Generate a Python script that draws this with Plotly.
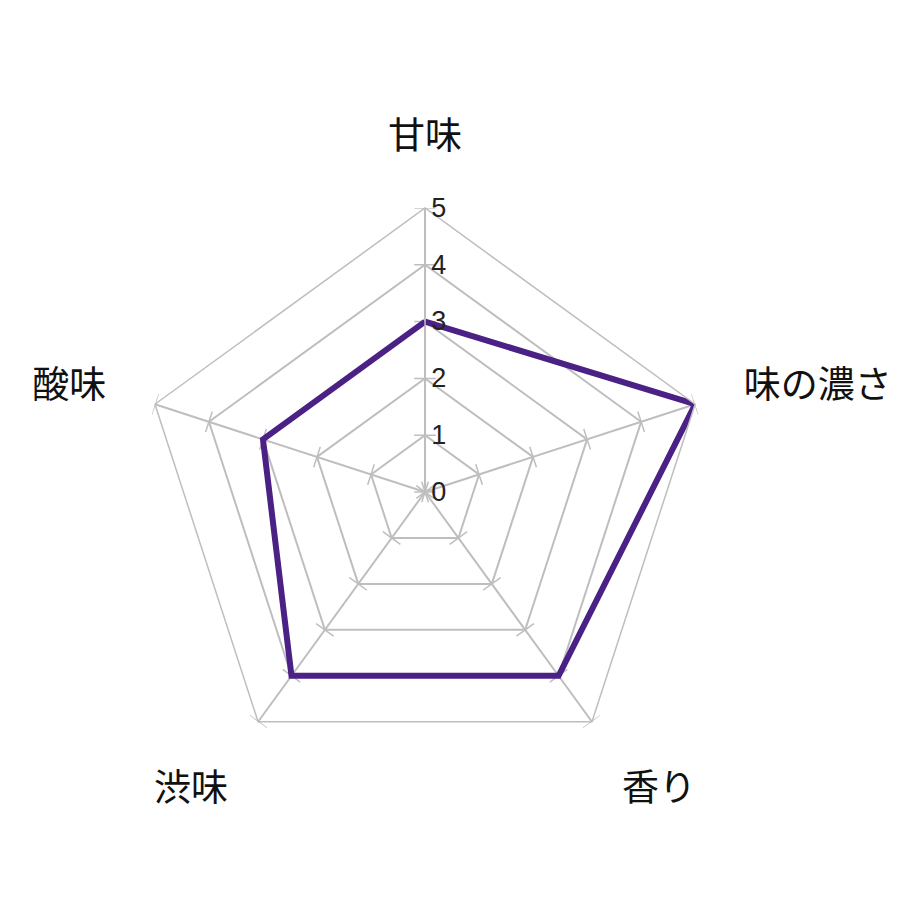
import math
import plotly.graph_objects as go

categories = ["甘味", "味の濃さ", "香り", "渋味", "酸味"]
values = [3, 5, 4, 4, 3]
tick_values = [0, 1, 2, 3, 4, 5]

line_color = "#4B2185"
grid_color = "#BEBEBE"
jp_font = "Noto Sans CJK JP"


def tick_marks(cats, ticks, half_len):
    # small crossing marks on each spoke, as in the spreadsheet chart
    r_out, t_out = [], []
    step = 360 / len(cats)
    for i in range(len(cats)):
        theta = 90 - i * step
        for t in ticks:
            if t == 0:
                r_out += [half_len, half_len, None]
                t_out += [theta + 90, theta - 90, None]
                continue
            rr = math.hypot(t, half_len)
            d = math.degrees(math.atan2(half_len, t))
            r_out += [rr, rr, None]
            t_out += [theta + d, theta - d, None]
    return r_out, t_out


mark_r, mark_t = tick_marks(categories, tick_values, 0.19)

dom_x = [0.1446, 0.7620]
dom_y = [0.1652, 0.7826]

fig = go.Figure()
fig.add_trace(go.Scatterpolar(
    r=mark_r, theta=mark_t, thetaunit="degrees", mode="lines",
    line=dict(color=grid_color, width=1.5), hoverinfo="skip",
    showlegend=False, connectgaps=False, cliponaxis=False, subplot="polar",
))
fig.add_trace(go.Scatterpolar(
    r=values + values[:1], theta=categories + categories[:1],
    mode="lines", line=dict(color=line_color, width=6),
    showlegend=False, cliponaxis=False, subplot="polar2",
))

fig.update_layout(
    width=920, height=920,
    margin=dict(l=0, r=0, t=0, b=0),
    paper_bgcolor="white",
    showlegend=False,
    polar=dict(
        domain=dict(x=dom_x, y=dom_y),
        bgcolor="rgba(0,0,0,0)",
        gridshape="linear",
        radialaxis=dict(visible=False, range=[0, 5]),
        angularaxis=dict(visible=False, rotation=0, direction="counterclockwise"),
    ),
    polar2=dict(
        domain=dict(x=dom_x, y=dom_y),
        bgcolor="rgba(0,0,0,0)",
        gridshape="linear",
        radialaxis=dict(
            range=[0, 5], tickvals=tick_values, angle=90, tickangle=90,
            showline=True, linecolor=grid_color, linewidth=1.5,
            gridcolor=grid_color, gridwidth=1.5,
            ticks="", tickprefix=" ", side="clockwise",
            tickfont=dict(family="Liberation Sans", size=27, color="#222222"),
        ),
        angularaxis=dict(
            rotation=90, direction="clockwise",
            categoryorder="array", categoryarray=categories,
            linecolor=grid_color, linewidth=1.5,
            gridcolor=grid_color, gridwidth=1.5,
            ticks="outside", ticklen=43, tickcolor="rgba(0,0,0,0)",
            tickfont=dict(family=jp_font, size=37, color="#111111"),
        ),
    ),
)

fig.write_html("out.html")
